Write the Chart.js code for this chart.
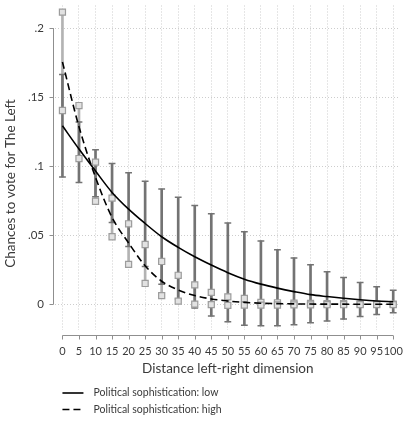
<!DOCTYPE html>
<html>
<head>
<meta charset="utf-8">
<script src="https://cdn.jsdelivr.net/npm/chart.js@4.4.1/dist/chart.umd.min.js"></script>
<style>
  html, body { margin: 0; padding: 0; background: #fff; }
</style>
</head>
<body>
<canvas id="voteChart" width="405" height="423"></canvas>
<script>
// distance on the left-right scale
const distance = [0, 5, 10, 15, 20, 25, 30, 35, 40, 45, 50, 55, 60, 65, 70, 75, 80, 85, 90, 95, 100];

// low sophistication: confidence interval and fitted curve
const lowUpper = [.1665, .132, .112, .102, .0954, .0892, .0835, .0776, .0717, .0657, .0589, .0526, .046, .0396, .0337, .0287, .0237, .0195, .0158, .0128, .0102];
const lowLower = [.0923, .0883, .078, .0593, .042, .0275, .0147, .004, -.0026, -.0084, -.0126, -.015, -.0154, -.0154, -.0147, -.0132, -.012, -.0106, -.0088, -.0073, -.006];
const lowFit = [.1293, .1125, .0966, .0811, .069, .0586, .049, .0413, .0345, .0285, .023, .0183, .0147, .0118, .0093, .0071, .0057, .0045, .0034, .0025, .0019];

// high sophistication: confidence interval and fitted curve
const highUpper = [.2116, .144, .103, .077, .0584, .0434, .0311, .0211, .0142, .0087, .0055, .0043, .0015, .0012, .0009, .0007, .0006, .0005, .0004, .0003, .0003];
const highLower = [.1404, .1056, .0747, .049, .029, .0152, .0064, .0024, .0002, -.0001, -.0007, -.0005, -.0005, -.0004, -.0003, -.0003, -.0002, -.0002, -.0001, -.0001, -.0001];
const highFit = [.1755, .1286, .092, .063, .0445, .028, .0168, .0105, .0064, .004, .0025, .0015, .0009, .0006, .0004, .0003, .0002, .0002, .0001, .0001, .0001];

const yTicks = [0, .05, .1, .15, .2];

const FONT = 'Lato, "Open Sans", sans-serif';
const DARK = '#737373';
const LIGHT = '#b3b3b3';
const TEXT = '#3a3a3a';

const pts = (ys) => distance.map((x, i) => ({x, y: ys[i]}));
const ranges = (lo, hi) => distance.map((x, i) => ({x, y: [lo[i], hi[i]]}));

// axis lines, titles and the legend
const frame = {
  id: 'frame',
  afterDraw(chart) {
    const {ctx, chartArea, scales: {x, y}} = chart;
    ctx.save();
    ctx.strokeStyle = '#8f8f8f';
    ctx.lineWidth = 1;
    ctx.beginPath();
    const ax = chartArea.left - 1.5;
    ctx.moveTo(ax, y.getPixelForValue(yTicks[0]));
    ctx.lineTo(ax, y.getPixelForValue(yTicks[yTicks.length - 1]));
    yTicks.forEach(v => {
      const p = Math.round(y.getPixelForValue(v)) + 0.5;
      ctx.moveTo(ax, p); ctx.lineTo(ax - 4, p);
    });
    const ay = chartArea.bottom + 5.5;
    ctx.moveTo(x.getPixelForValue(distance[0]), ay);
    ctx.lineTo(x.getPixelForValue(distance[distance.length - 1]), ay);
    distance.forEach(v => {
      const p = Math.round(x.getPixelForValue(v)) + 0.5;
      ctx.moveTo(p, ay); ctx.lineTo(p, ay + 4);
    });
    ctx.stroke();

    ctx.fillStyle = TEXT;
    ctx.font = '13.5px ' + FONT;
    ctx.textAlign = 'center';
    ctx.textBaseline = 'middle';
    const xMid = (x.getPixelForValue(0) + x.getPixelForValue(100)) / 2;
    ctx.fillText('Distance left-right dimension', xMid, chartArea.bottom + 39);
    ctx.save();
    ctx.translate(11, chartArea.top + 178);
    ctx.rotate(-Math.PI / 2);
    ctx.fillText('Chances to vote for The Left', 0, 0);
    ctx.restore();

    // legend entries for the fitted curves
    ctx.font = '10.5px ' + FONT;
    ctx.textAlign = 'left';
    chart.data.datasets.filter(d => d.inLegend).forEach((d, i) => {
      const ly = chartArea.bottom + 63 + i * 16.5;
      const lx = x.getPixelForValue(0);
      ctx.beginPath();
      ctx.setLineDash(d.borderDash || []);
      ctx.strokeStyle = d.borderColor;
      ctx.lineWidth = d.borderWidth;
      ctx.moveTo(lx, ly); ctx.lineTo(lx + 21, ly);
      ctx.stroke();
      ctx.setLineDash([]);
      ctx.fillText(d.label, lx + 31, ly);
    });
    ctx.restore();
  }
};

new Chart(document.getElementById('voteChart'), {
  type: 'scatter',
  data: {
    datasets: [
      {
        type: 'line', label: 'Political sophistication: low', inLegend: true,
        data: pts(lowFit), borderColor: '#000', borderWidth: 1.6,
        pointRadius: 0, cubicInterpolationMode: 'monotone', order: 0
      },
      {
        type: 'line', label: 'Political sophistication: high', inLegend: true,
        data: pts(highFit), borderColor: '#000', borderWidth: 1.6, borderDash: [7, 4],
        pointRadius: 0, cubicInterpolationMode: 'monotone', order: 0
      },
      {
        label: 'high CI ends', data: pts(highUpper).concat(pts(highLower)),
        pointStyle: 'rect', pointRadius: 4.3, borderWidth: 1.2,
        borderColor: '#9c9c9c', backgroundColor: '#e2e2e2', order: 1
      },
      {
        label: 'low CI caps', data: pts(lowUpper).concat(pts(lowLower)),
        pointStyle: 'line', pointRadius: 3.4, borderWidth: 1.5,
        borderColor: DARK, order: 2
      },
      {
        type: 'bar', label: 'low CI', data: ranges(lowLower, lowUpper),
        backgroundColor: DARK, barThickness: 2, grouped: false, order: 3
      },
      {
        type: 'bar', label: 'high CI', data: ranges(highLower, highUpper),
        backgroundColor: LIGHT, barThickness: 2, grouped: false, order: 4
      }
    ]
  },
  options: {
    responsive: false,
    animation: false,
    layout: { padding: { top: 0, right: 3, bottom: 0, left: 0 } },
    plugins: { legend: { display: false }, tooltip: { enabled: false } },
    scales: {
      x: {
        type: 'linear', min: -2.25, max: 101.9, offset: false,
        afterBuildTicks: s => { s.ticks = distance.map(v => ({value: v})); },
        afterFit: s => { s.height = 93; s.paddingLeft = 0; s.paddingRight = 0; },
        border: { display: false, dash: [1, 2] },
        grid: { color: '#cdcdcd', lineWidth: 1, drawTicks: false, offset: false },
        ticks: { padding: 15, maxRotation: 0, autoSkip: false, color: TEXT, font: { family: FONT, size: 11 } }
      },
      y: {
        type: 'linear', min: -.0185, max: .2164,
        afterBuildTicks: s => { s.ticks = yTicks.map(v => ({value: v})); },
        afterFit: s => { s.width = 55; s.paddingTop = 0; s.paddingBottom = 0; },
        border: { display: false, dash: [1, 2] },
        grid: { color: '#cdcdcd', lineWidth: 1, drawTicks: false },
        ticks: {
          padding: 11, color: TEXT, font: { family: FONT, size: 11.5 },
          callback: v => v === 0 ? '0' : String(v).replace(/^0/, '')
        }
      }
    }
  },
  plugins: [frame]
});
</script>
</body>
</html>
